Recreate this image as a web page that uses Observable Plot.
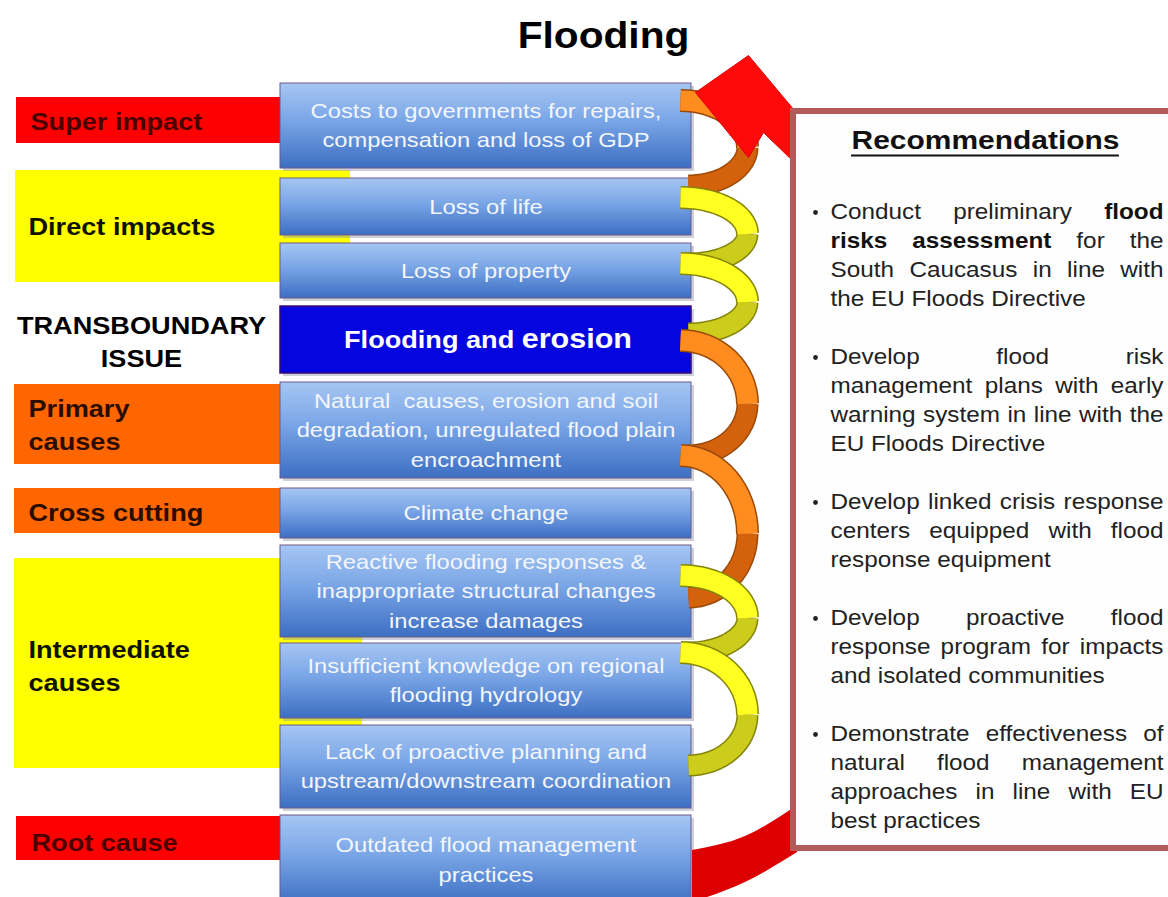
<!DOCTYPE html>
<html><head><meta charset="utf-8">
<script src="https://cdn.jsdelivr.net/npm/d3@7"></script>
<script src="https://cdn.jsdelivr.net/npm/@observablehq/plot@0.6"></script>
<style>body{margin:0;background:#fff} #chart svg{display:block}</style>
</head><body><div id="chart"></div>
<script>
// ---------------- data ----------------
const title = "Flooding";
const levelLines = [["Super impact"], ["Direct impacts"], ["TRANSBOUNDARY", "ISSUE"], ["Primary", "causes"], ["Cross cutting"], ["Intermediate", "causes"], ["Root cause"]];
const boxTexts = [
  ["Costs to governments for repairs,", "compensation and loss of GDP"],
  ["Loss of life"],
  ["Loss of property"],
  ["Flooding and", "erosion"],
  ["Natural  causes, erosion and soil", "degradation, unregulated flood plain", "encroachment"],
  ["Climate change"],
  ["Reactive flooding responses &", "inappropriate structural changes", "increase damages"],
  ["Insufficient knowledge on regional", "flooding hydrology"],
  ["Lack of proactive planning and", "upstream/downstream coordination"],
  ["Outdated flood management", "practices"]
];
const issueBox = 3;
const recHeading = "Recommendations";
const recommendations = [
  ["Conduct preliminary **flood**", "**risks assessment** for the", "South Caucasus in line with", "the EU Floods Directive"],
  ["Develop flood risk", "management plans with early", "warning system in line with the", "EU Floods Directive"],
  ["Develop linked crisis response", "centers equipped with flood", "response equipment"],
  ["Develop proactive flood", "response program for impacts", "and isolated communities"],
  ["Demonstrate effectiveness of", "natural flood management", "approaches in line with EU", "best practices"]
];

// ---------------- layout & style ----------------
const W = 1168, H = 897, S = 1.13;
const FONT = "Liberation Sans";
const levelStyle = [
  {fill: "#ff0000", text: "#4a0000", x1: 16, x2: 280, y1: 97, y2: 143, tx: 30, ty: 122},
  {fill: "#ffff00", text: "#111100", x1: 15, x2: 350, y1: 170, y2: 282, tx: 28, ty: 227},
  {fill: null, text: "#000000", tx: 141, ty: 326, anchor: "middle"},
  {fill: "#ff6600", text: "#2a0c00", x1: 14, x2: 283, y1: 384, y2: 464, tx: 28, ty: 409},
  {fill: "#ff6600", text: "#2a0c00", x1: 14, x2: 280, y1: 488, y2: 533, tx: 28, ty: 513},
  {fill: "#ffff00", text: "#111100", x1: 14, x2: 362, y1: 558, y2: 768, tx: 28, ty: 650},
  {fill: "#ff0000", text: "#4a0000", x1: 16, x2: 280, y1: 816, y2: 860, tx: 31, ty: 843}
];
const levelLineH = 33;
const boxX1 = 280, boxX2 = 691;
const boxY = [[83,168],[178,235],[243,298],[306,373],[382,478],[488,538],[545,637],[643,718],[725,808],[815,905]];
const boxLineH = 29.5;
const ribbonL = 680, ribbonR = 747;
const orange = {front: "#ff8c1f", back: "#d4620c", edge: "#9a4a08"};
const yellow = {front: "#ffff22", back: "#cccc1c", edge: "#84840a"};
const ribbons = [
  {c: orange, nodes: [100, 185]},
  {c: yellow, nodes: [197, 263, 333]},
  {c: orange, nodes: [340, 455, 597]},
  {c: yellow, nodes: [575, 652, 765]}
];
const rec = {x1: 793, x2: 1178, y1: 111, y2: 848, hx: 985, hy: 140, tx0: 830, tx1: 1163, ty0: 212, lineH: 29, gap: 29, bx: 815, fs: 21.5};

// ---------------- helpers ----------------
const ctx = document.createElement("canvas").getContext("2d");
function measure(t, weight, size) { ctx.font = `${weight} ${size}px "${FONT}"`; return ctx.measureText(t).width * S; }

const levelRects = levelStyle.map((s, i) => ({...s, i})).filter(s => s.fill);
const levelTexts = [];
levelLines.forEach((lines, i) => lines.forEach((t, j) => levelTexts.push({t, x: levelStyle[i].tx, y: levelStyle[i].ty + j * levelLineH, color: levelStyle[i].text, anchor: levelStyle[i].anchor || "start"})));

const boxes = boxY.map(([y1, y2], i) => ({i, x1: boxX1, x2: boxX2, y1, y2}));
const boxLines = [];
boxTexts.forEach((lines, i) => {
  if (i === issueBox) return;
  const cy = (boxY[i][0] + boxY[i][1]) / 2;
  lines.forEach((t, j) => boxLines.push({t, x: (boxX1 + boxX2) / 2, y: cy + (j - (lines.length - 1) / 2) * boxLineH}));
});
const iw1 = measure(boxTexts[issueBox][0], "bold", 24), iw2 = measure(boxTexts[issueBox][1], "bold", 27), igap = measure(" ", "bold", 24);
const ix0 = (boxX1 + boxX2) / 2 - (iw1 + igap + iw2) / 2 + 2;
const issueY = (boxY[issueBox][0] + boxY[issueBox][1]) / 2;
const issueParts = [{t: boxTexts[issueBox][0], x: ix0, y: issueY, fs: 24}, {t: boxTexts[issueBox][1], x: ix0 + iw1 + igap, y: issueY - 1, fs: 27}];

// ribbons (quarter-ellipse strands between attachment nodes)
const backPts = [], frontPts = [];
let seg = 0;
ribbons.forEach(r => {
  for (let k = 0; k < r.nodes.length - 1; k++) {
    const a = r.nodes[k], b = r.nodes[k + 1], m = a + (b - a) * 0.55;
    seg++;
    for (let s = 0; s <= 16; s++) {
      const t = (s / 16) * Math.PI / 2;
      frontPts.push({seg, x: ribbonL + (ribbonR - ribbonL) * Math.sin(t), y: a + (m - a) * (1 - Math.cos(t)), c: r.c.front, e: r.c.edge});
    }
    seg++;
    for (let s = 0; s <= 16; s++) {
      const t = (s / 16) * Math.PI / 2;
      backPts.push({seg, x: ribbonL + 8 + (ribbonR - ribbonL - 8) * Math.cos(t), y: m + (b - m) * Math.sin(t), c: r.c.back, e: r.c.edge});
    }
  }
});
const arrow = [[695,92],[748,55],[794,110],[794,162],[763,132],[748,157],[695,92]].map(([x, y]) => ({x, y}));
const band = [{x: 692, y1: 850, y2: 902}, {x: 745, y1: 836, y2: 882}, {x: 797, y1: 805, y2: 852}];

// recommendations text, justified
const words = [], bullets = [];
let yy = rec.ty0;
recommendations.forEach(para => {
  bullets.push({x: rec.bx, y: yy});
  para.forEach((line, li) => {
    let bold = false;
    const toks = line.split(/\s+/).map(w => {
      if (w.startsWith("**")) { bold = true; w = w.slice(2); }
      const tk = {t: w, bold};
      if (w.endsWith("**")) { tk.t = w.slice(0, -2); bold = false; }
      return tk;
    });
    const widths = toks.map(tk => measure(tk.t, tk.bold ? "bold" : "normal", rec.fs));
    const total = d3.sum(widths);
    const last = li === para.length - 1;
    const gap = (last || toks.length < 2) ? measure(" ", "normal", rec.fs) : (rec.tx1 - rec.tx0 - total) / (toks.length - 1);
    let x = rec.tx0;
    toks.forEach((tk, i) => { words.push({x, y: yy, t: tk.t, bold: tk.bold}); x += widths[i] + gap; });
    yy += rec.lineH;
  });
  yy += rec.gap;
});
const headW = measure(recHeading, "bold", 26.5);

// ---------------- plot ----------------
const svg = Plot.plot({
  width: W, height: H, margin: 0,
  x: {domain: [0, W], range: [0, W], axis: null},
  y: {domain: [0, H], range: [0, H], axis: null},
  color: {type: "identity"},
  style: {background: "#fff", fontFamily: `"${FONT}", Arial, sans-serif`},
  marks: [
    Plot.text([title], {x: () => 603, y: () => 36, text: d => d, fontSize: 36, fontWeight: "bold", fill: "#000"}),
    Plot.rect(levelRects, {x1: "x1", x2: "x2", y1: "y1", y2: "y2", fill: "fill"}),
    Plot.text(levelTexts.filter(d => d.anchor === "start"), {x: "x", y: "y", text: "t", fill: "color", textAnchor: "start", fontSize: 24, fontWeight: "bold"}),
    Plot.text(levelTexts.filter(d => d.anchor === "middle"), {x: "x", y: "y", text: "t", fill: "color", textAnchor: "middle", fontSize: 24, fontWeight: "bold"}),
    Plot.rect(boxes, {x1: d => d.x1 + 3, x2: d => d.x2 + 3, y1: d => d.y1 + 3, y2: d => d.y2 + 3, fill: "#8d98ab", fillOpacity: 0.45}),
    Plot.rect(boxes.filter(d => d.i !== issueBox), {x1: "x1", x2: "x2", y1: "y1", y2: "y2", fill: "url(#boxGrad)", stroke: "#6c5a86", strokeWidth: 1}),
    Plot.rect(boxes.filter(d => d.i === issueBox), {x1: "x1", x2: "x2", y1: "y1", y2: "y2", fill: "#0505e0", stroke: "#3a0a70", strokeWidth: 1.5}),
    Plot.text(boxLines, {x: "x", y: "y", text: "t", fill: "#f3f6fc", fontSize: 21}),
    Plot.text(issueParts, {x: "x", y: "y", text: "t", fill: "#ffffff", fontSize: d => d.fs, fontWeight: "bold", textAnchor: "start"}),
    Plot.line(backPts, {x: "x", y: "y", z: "seg", stroke: "e", strokeWidth: 22, strokeLinecap: "butt"}),
    Plot.line(backPts, {x: "x", y: "y", z: "seg", stroke: "c", strokeWidth: 19, strokeLinecap: "butt"}),
    Plot.line(frontPts, {x: "x", y: "y", z: "seg", stroke: "e", strokeWidth: 23, strokeLinecap: "butt"}),
    Plot.line(frontPts, {x: "x", y: "y", z: "seg", stroke: "c", strokeWidth: 20, strokeLinecap: "butt"}),
    Plot.areaY(band, {x: "x", y1: "y1", y2: "y2", fill: "#dd0000", curve: "natural"}),
    Plot.line(arrow, {x: "x", y: "y", fill: "#ff0a0a", stroke: "#e00000", strokeWidth: 1}),
    Plot.rect([rec], {x1: "x1", x2: "x2", y1: "y1", y2: "y2", fill: "#fefefe", stroke: "#b35a5a", strokeWidth: 6}),
    Plot.text([recHeading], {x: () => rec.hx, y: () => rec.hy, text: d => d, fontSize: 26.5, fontWeight: "bold", fill: "#111"}),
    Plot.ruleY([rec.hy + 15], {x1: rec.hx - headW / 2, x2: rec.hx + headW / 2, stroke: "#111", strokeWidth: 2}),
    Plot.dot(bullets, {x: "x", y: "y", r: 2.4, fill: "#222"}),
    Plot.text(words.filter(d => !d.bold), {x: "x", y: "y", text: "t", fill: "#222", fontSize: rec.fs, textAnchor: "start"}),
    Plot.text(words.filter(d => d.bold), {x: "x", y: "y", text: "t", fill: "#111", fontSize: rec.fs, fontWeight: "bold", textAnchor: "start"})
  ]
});

d3.select(svg).insert("defs", ":first-child").html(`
  <linearGradient id="boxGrad" x1="0" y1="0" x2="0" y2="1">
    <stop offset="0" stop-color="#a6c6f3"/>
    <stop offset="0.45" stop-color="#79a5e6"/>
    <stop offset="1" stop-color="#3c6ec2"/>
  </linearGradient>`);
document.getElementById("chart").append(svg);
svg.querySelectorAll("text").forEach(el => {
  const len = el.getComputedTextLength();
  if (len > 0) { el.setAttribute("textLength", len * S); el.setAttribute("lengthAdjust", "spacingAndGlyphs"); }
});
</script>
</body></html>
